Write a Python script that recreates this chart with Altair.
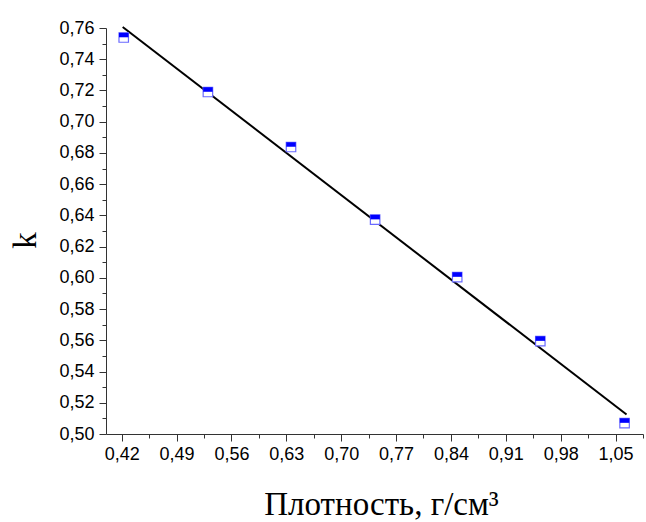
import altair as alt
import pandas as pd

density = [0.4226, 0.530, 0.636, 0.7433, 0.848, 0.954, 1.0615]
k_values = [0.7539, 0.719, 0.6838, 0.6373, 0.6005, 0.5595, 0.507]

fit_x = [0.4213, 1.064]
fit_y = [0.7606, 0.5125]

x_ticks = [round(0.42 + 0.035 * i, 3) for i in range(20)]
y_ticks = [round(0.50 + 0.01 * i, 2) for i in range(27)]

pts = pd.DataFrame({"x": density, "y": k_values})
fit = pd.DataFrame({"x": fit_x, "y": fit_y})

label_expr = "replace(format(datum.value, '.2f'), '.', ',')"
x_major = "round((datum.value - 0.42) / 0.035) % 2 == 0"
y_major = "round(datum.value * 100) % 2 == 0"

xscale = alt.Scale(domain=[0.40, 1.085], nice=False, zero=False)
yscale = alt.Scale(domain=[0.50, 0.76], nice=False, zero=False)


def xaxis():
    return alt.Axis(
        values=x_ticks,
        labelExpr=x_major + " ? " + label_expr + " : ''",
        tickSize={"condition": {"test": x_major, "value": 7}, "value": 4},
        grid=False,
        domainColor="#333333",
        tickColor="#333333",
        labelFont="Liberation Sans",
        labelFontSize=18,
        labelColor="#000000",
        labelPadding=4,
        title="Плотность, г/см³",
        titleFont="Liberation Serif",
        titleFontSize=33,
        titleFontWeight="normal",
        titleColor="#000000",
        titleX=275,
        titleY=80,
        titleBaseline="alphabetic",
        titleAlign="center",
        labelFlush=False,
        labelOverlap=False,
        labelBound=False,
    )


def yaxis():
    return alt.Axis(
        values=y_ticks,
        labelExpr=y_major + " ? " + label_expr + " : ''",
        tickSize={"condition": {"test": y_major, "value": 7}, "value": 4},
        grid=False,
        domainColor="#333333",
        tickColor="#333333",
        labelFont="Liberation Sans",
        labelFontSize=18,
        labelColor="#000000",
        labelPadding=5,
        title="k",
        titleFont="Liberation Serif",
        titleFontSize=33,
        titleFontWeight="normal",
        titleColor="#000000",
        titleAngle=270,
        titleX=-71,
        titleY=212,
        titleBaseline="alphabetic",
        titleAlign="center",
        labelFlush=False,
        labelOverlap=False,
        labelBound=False,
    )


enc = dict(
    x=alt.X("x:Q", scale=xscale, axis=xaxis()),
    y=alt.Y("y:Q", scale=yscale, axis=yaxis()),
)

line = alt.Chart(fit).mark_line(color="#000000", strokeWidth=2).encode(**enc)

box = alt.Chart(pts).mark_point(
    shape="square", filled=True, fill="#ffffff", stroke="#6a6aff", strokeWidth=1.2, size=90, opacity=1
).encode(**enc)

top = alt.Chart(pts).mark_point(
    shape="M-1,-1H1V-0.05H-1Z", filled=True, fill="#0000ff", strokeWidth=0, size=90, opacity=1
).encode(**enc)

chart = alt.layer(line, box, top).properties(
    width=537,
    height=406,
    autosize=alt.AutoSizeParams(type="none"),
    padding={"left": 106, "top": 28, "right": 3, "bottom": 88},
    background="#ffffff",
).configure_view(stroke=None).configure_axis(labelOverlap=False)

chart.save("out.html", embed_options={"renderer": "svg", "actions": False})
